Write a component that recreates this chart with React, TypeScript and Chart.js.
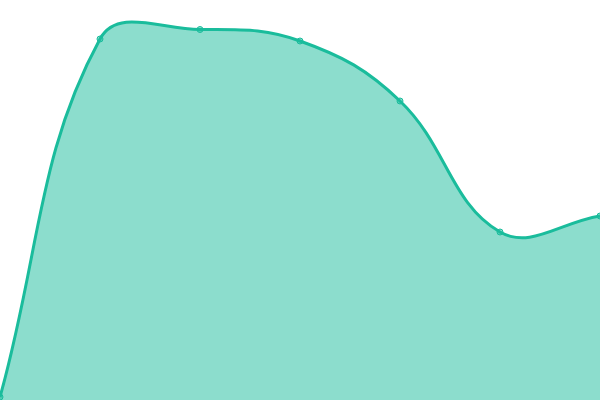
import { Chart, registerables } from "chart.js";
import { useEffect, useRef } from "react";

Chart.register(...registerables);

const labels: string[] = ["1", "2", "3", "4", "5", "6", "7"];
const values: number[] = [3, 361, 370.5, 359, 299, 168, 184];

const App: React.FC = () => {
  const chartRef = useRef<HTMLCanvasElement | null>(null);

  useEffect(() => {
    if (!chartRef.current) return;
    const ctx = chartRef.current.getContext("2d");
    if (!ctx) return;
    const myChart = new Chart(ctx, {
      type: "line",
      data: {
        labels: labels,
        datasets: [{
          data: values,
          fill: true,
          backgroundColor: "rgba(26, 188, 156, 0.5)",
          borderColor: "#1abc9c",
          borderWidth: 3,
          tension: 0.4,
          pointRadius: 3,
          pointBorderWidth: 1,
          pointBackgroundColor: "rgba(26, 188, 156, 0.5)",
          pointBorderColor: "#1abc9c",
        }],
      },
      options: {
        animation: false,
        responsive: false,
        maintainAspectRatio: false,
        layout: { padding: 0, autoPadding: false },
        scales: {
          x: { display: false, offset: false },
          y: { display: false, min: 0, max: 400 },
        },
        plugins: {
          legend: { display: false },
          tooltip: { enabled: false },
        },
      },
    });
    return () => myChart.destroy();
  }, []);

  return (
    <div style={{ position: "fixed", left: 0, top: 0, width: "600px", height: "400px", background: "#fff" }}>
      <canvas ref={chartRef} width="600" height="400" />
    </div>
  );
};

export default App;
